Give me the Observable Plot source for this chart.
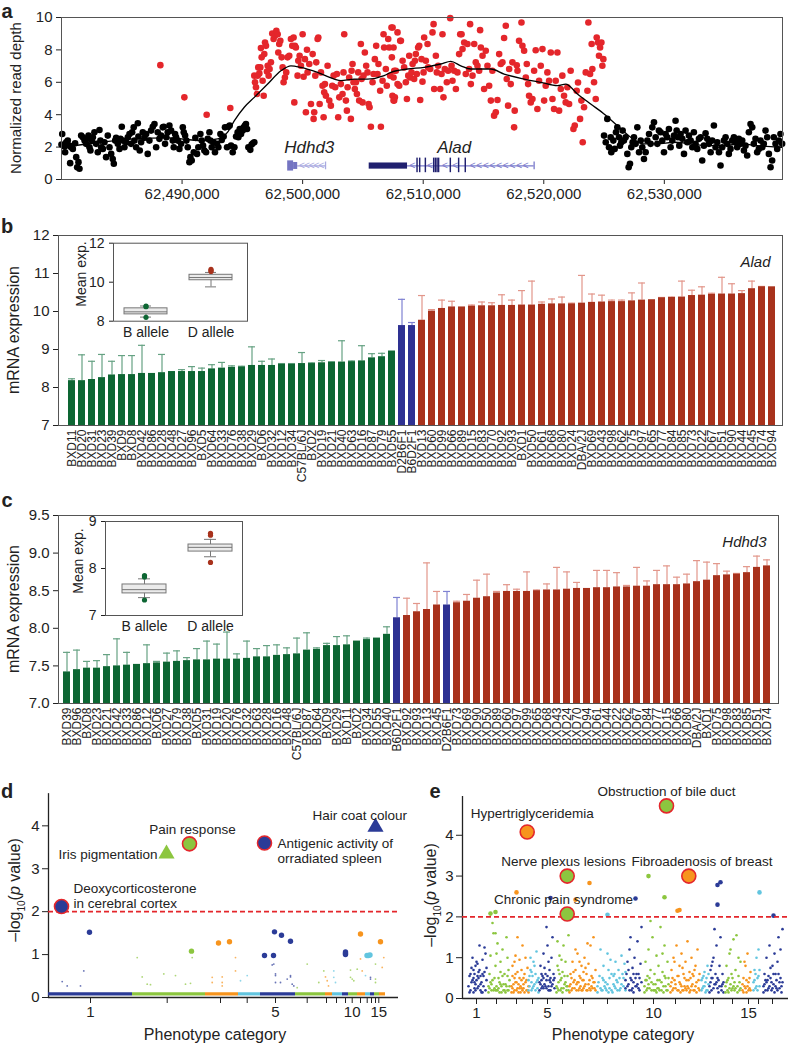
<!DOCTYPE html>
<html><head><meta charset="utf-8">
<script src="https://cdn.jsdelivr.net/npm/d3@7"></script>
<script src="https://cdn.jsdelivr.net/npm/@observablehq/plot@0.6"></script>
<style>
body{margin:0;background:#fff;font-family:"Liberation Sans",Arial,sans-serif;color:#222}
#root{position:relative;width:788px;height:1044px;overflow:hidden;background:#fff}
.lab{position:absolute;white-space:nowrap;transform:translate(-50%,-50%);line-height:1}
</style></head>
<body><div id="root"></div>
<script>
// ---------------- DATA ----------------
const REGION_START = 62480000; // positions below are kb offsets from this coordinate
const aXTicks = [62490000, 62500000, 62510000, 62520000, 62530000];
const aYTicks = [0, 2, 4, 6, 8, 10];
const aBlack = [[0.06,2.81],[0,2.16],[0.25,2.03],[0.39,2.3],[0.52,2.4],[0.66,2.09],[0.30,1.68],[0.80,1.99],[0.94,1.89],[0.72,1.01],[1.13,2.24],[1.22,1.38],[1.30,0.76],[1.41,1.07],[1.49,0.66],[1.63,2.71],[1.77,2.61],[1.91,2.4],[2.04,2.2],[2.13,2.51],[2.24,2.71],[2.32,1.99],[2.40,1.79],[2.51,2.4],[2.60,2.61],[2.73,2.92],[2.87,2.2],[3.01,1.68],[3.15,3.06],[3.23,2.4],[3.29,1.99],[3.43,1.89],[3.56,2.3],[3.70,1.38],[3.84,2.71],[3.98,1.99],[4.12,1.58],[4.25,1.27],[4.34,0.97],[4.45,2.4],[4.53,2.57],[4.67,2.2],[4.81,1.89],[4.89,2.51],[5.00,3.26],[5.08,2.4],[5.22,1.99],[5.36,2.3],[5.50,2.61],[5.64,2.81],[5.77,2.2],[5.86,2.92],[5.99,3.22],[6.05,2.4],[6.19,1.99],[6.33,3.47],[6.38,2.65],[6.49,1.79],[6.60,2.3],[6.74,2.92],[6.88,2.57],[7.02,2.81],[7.15,1.58],[7.29,2.4],[7.43,3.02],[7.57,3.26],[7.71,3.43],[7.85,1.99],[7.98,2.92],[8.12,2.51],[8.26,2.71],[8.40,3.22],[8.48,3.26],[8.59,2.2],[8.70,2.61],[8.81,2.92],[8.95,3.33],[9.09,3.02],[9.23,2.4],[9.31,1.99],[9.42,2.81],[9.50,2.61],[9.64,2.4],[9.78,1.89],[9.92,2.2],[10.06,3.22],[10.14,2.92],[10.25,2.71],[10.36,2.4],[10.47,1.99],[10.61,1.07],[10.69,1.38],[10.80,1.17],[10.97,1.68],[11.10,2.57],[11.24,1.58],[11.35,1.99],[11.52,2.81],[11.63,2.4],[11.74,2.09],[11.85,1.79],[11.99,1.68],[12.13,2.51],[12.27,2.92],[12.35,2.4],[12.46,1.99],[12.60,2.3],[12.73,1.68],[12.90,2.2],[13.01,1.99],[13.18,2.81],[13.29,2.44],[13.45,2.65],[13.56,3.22],[13.73,1.99],[13.84,3.26],[13.95,3.33],[14.06,2.09],[14.20,1.68],[14.34,1.99],[14.48,2.65],[14.61,2.92],[14.67,2.61],[14.78,3.12],[14.89,2.81],[15.03,3.02],[15.11,3.22],[15.22,3.33],[15.30,3.43],[15.39,3.12],[15.50,1.99],[15.66,1.83],[15.77,2.16],[15.88,2.24],[15.99,2.3],
[45.00,2.71],[45.14,2.3],[45.27,3.74],[45.41,1.99],[45.55,2.61],[45.60,1.68],[45.77,2.4],[45.88,1.89],[45.99,2.92],[46.10,3.22],[46.24,2.61],[46.32,2.09],[46.43,2.3],[46.54,3.02],[46.65,2.4],[46.79,2.61],[46.93,1.58],[47.04,0.76],[47.15,0.97],[47.26,1.99],[47.37,2.3],[47.48,2.61],[47.62,2.2],[47.76,3.22],[47.90,1.68],[48.04,2.4],[48.17,1.99],[48.31,1.27],[48.45,1.68],[48.59,2.4],[48.73,2.81],[48.86,2.2],[49.00,3.22],[49.14,3.53],[49.28,2.61],[49.42,2.2],[49.55,3.02],[49.69,2.92],[49.83,2.4],[49.97,1.68],[50.11,2.81],[50.24,2.61],[50.38,3.12],[50.52,1.99],[50.66,2.4],[50.80,2.71],[50.93,3.63],[51.02,3.02],[51.13,2.61],[51.24,2.09],[51.35,2.81],[51.49,2.51],[51.63,1.58],[51.76,3.02],[51.90,2.3],[52.04,2.71],[52.18,2.4],[52.32,1.99],[52.45,2.92],[52.59,2.2],[52.73,1.89],[52.87,2.51],[53.01,2.61],[53.14,1.17],[53.28,2.09],[53.42,2.85],[53.56,2.51],[53.70,2.2],[53.84,1.68],[53.97,2.4],[54.11,3.33],[54.25,1.99],[54.39,2.3],[54.53,1.68],[54.66,0.86],[54.80,1.99],[54.94,2.4],[55.08,2.61],[55.22,2.2],[55.35,1.58],[55.49,1.89],[55.63,2.4],[55.77,2.61],[55.91,2.3],[56.04,1.99],[56.18,2.51],[56.32,2.2],[56.46,2.4],[56.60,1.79],[56.73,2.09],[56.87,1.48],[57.01,2.92],[57.15,3.43],[57.29,3.22],[57.42,2.2],[57.56,2.51],[57.70,1.68],[57.84,1.89],[57.98,2.4],[58.12,1.99],[58.25,2.2],[58.39,3.02],[58.53,2.61],[58.67,1.58],[58.81,0.76],[58.94,1.17],[59.08,2.61],[59.22,2.2],[59.36,1.89],[59.50,2.4],[59.63,2.81],[59.77,2.2]];
const aRed = [[8.20,7.06],[10.19,5.07],[12.04,4.0],[14.0,4.41],
[15.99,6.41],[16.05,6.0],[16.13,5.69],[16.21,5.28],[16.27,6.41],[16.32,6.92],[16.41,6.55],[16.49,6.92],[16.54,8.11],[16.60,7.54],[16.68,6.1],[16.77,5.17],[16.82,7.74],[16.88,8.46],[16.96,8.25],[17.04,6.67],[17.10,7.02],[17.18,6.41],[17.26,6.82],[17.37,7.23],[17.48,9.01],[17.59,8.67],[17.70,8.87],[17.82,9.18],[17.93,8.97],[17.98,7.84],[18.06,8.36],[18.15,8.56],[18.26,7.54],[18.34,6.92],[18.42,6.0],[18.53,6.3],[18.64,6.61],[18.75,7.54],[18.89,7.64],[19.03,8.67],[19.14,8.25],[19.25,8.77],[19.31,4.76],[19.36,8.25],[19.44,8.15],[19.58,6.41],[19.64,7.33],[19.75,7.64],[19.86,7.02],[20.00,8.97],[20.08,6.34],[20.19,7.43],[20.27,4.15],[20.36,8.01],[20.41,6.61],[20.55,7.13],[20.69,4.66],[20.83,7.74],[20.91,3.74],[20.96,4.15],[21.05,6.41],[21.13,7.23],[21.24,8.67],[21.30,8.77],[21.41,4.66],[21.52,6.61],[21.65,5.79],[21.74,3.84],[21.79,5.38],[21.85,5.89],[21.93,5.17],[22.07,7.02],[22.21,4.87],[22.34,4.56],[22.46,5.79],[22.57,6.41],[22.70,5.69],[22.84,6.51],[22.95,3.84],[23.04,5.07],[23.17,5.89],[23.31,5.28],[23.39,6.61],[23.45,8.97],[23.59,4.87],[23.67,4.25],[23.73,5.69],[23.86,6.3],[24.00,3.74],[24.06,6.71],[24.14,7.13],[24.22,6.0],[24.33,5.59],[24.42,6.0],[24.50,5.28],[24.61,6.61],[24.69,4.87],[24.83,8.36],[24.89,6.2],[24.97,4.76],[25.05,6.41],[25.16,7.84],[25.27,7.02],[25.38,6.61],[25.47,4.66],[25.55,4.46],[25.66,3.26],[25.80,6.0],[25.88,6.51],[25.99,7.43],[26.10,8.25],[26.21,6.51],[26.29,7.13],[26.43,5.48],[26.49,3.26],[26.63,6.1],[26.71,8.97],[26.76,8.15],[26.90,6.82],[26.98,5.79],[27.10,8.67],[27.18,8.15],[27.26,6.41],[27.37,9.38],[27.45,5.17],[27.54,6.3],[27.59,4.87],[27.73,6.71],[27.87,9.08],[28.01,5.79],[28.09,8.56],
[27.46,9.38],[27.54,8.15],[27.40,7.54],[27.60,6.71],[27.65,5.07],[27.54,4.87],[27.87,5.89],[28.15,8.56],[28.29,7.33],[28.42,6.92],[28.56,6.0],[28.65,4.97],[28.76,6.41],[28.84,7.64],[28.92,6.3],[29.03,6.61],[29.12,7.13],[29.25,6.2],[29.31,7.33],[29.39,7.74],[29.47,6.51],[29.58,8.15],[29.67,8.25],[29.75,4.91],[29.86,7.43],[29.94,6.04],[30.03,6.61],[30.08,8.77],[30.22,7.33],[30.36,8.36],[30.41,6.92],[30.58,6.82],[30.77,9.08],[30.86,9.59],[30.91,5.59],[31.05,7.64],[31.13,6.61],[31.24,7.02],[31.41,5.59],[31.52,6.51],[31.60,8.97],[31.68,5.07],[31.79,6.82],[31.96,6.0],[32.07,6.71],[32.24,9.96],[32.35,7.02],[32.43,6.1],[32.57,6.71],[32.71,5.59],[32.84,6.61],[32.98,7.74],[33.07,8.97],[33.18,8.97],[33.26,8.05],[33.40,8.46],[33.53,6.51],[33.67,8.36],[33.81,6.82],[33.89,9.59],[33.95,5.89],[34.09,6.41],[34.23,8.36],[34.36,7.23],[34.50,7.02],[34.64,6.71],[34.72,9.22],[34.78,8.15],[34.92,7.64],[35.05,5.59],[35.19,7.95],[35.33,7.02],[35.47,5.79],[35.61,4.87],[35.74,6.71],[35.88,3.94],[36.02,4.15],[36.16,4.91],[36.30,7.74],[36.43,7.13],[36.57,7.23],[36.71,8.73],[36.85,9.49],[36.93,6.2],[37.04,4.56],[37.13,6.82],[37.26,5.89],[37.40,7.23],[37.54,3.22],[37.59,4.25],[37.76,7.05],[37.82,6.71],[37.95,8.56],[38.15,9.69],[38.23,8.25],[38.37,7.95],[38.51,6.3],[38.59,7.13],[38.70,5.89],[38.78,5.17],[38.92,4.76],[39.06,4.97],[39.20,6.71],[39.33,7.98],[39.47,4.35],[39.61,6.1],[39.75,7.02],[39.89,8.05],[40.03,4.87],[40.16,5.79],[40.30,6.61],[40.44,6.1],[40.58,7.84],[40.72,4.97],[40.85,4.35],[40.99,6.1],[41.13,7.84],[41.27,4.25],[41.41,5.59],[41.54,6.41],[41.68,5.17],[41.82,4.76],[41.96,5.69],[42.10,4.66],[42.23,6.71],[42.46,3.12],[42.57,3.33],[42.73,5.48],[42.84,5.99],[43.01,3.74],[43.12,4.87],[43.23,2.3],[43.34,4.46],[43.48,6.61],[43.62,5.48],[43.70,9.69],[43.84,6.51],[43.97,8.36],[44.03,6.82],[44.17,6.0],[44.31,4.97],[44.39,8.77],[44.50,8.46],[44.58,7.64],[44.67,8.15],[44.78,8.46],[44.86,7.02],[44.94,7.43]];
const aTrend = [[0,1.99],[3.29,2.3],[6.05,2.51],[8.81,2.57],[11.57,2.4],[12.95,2.51],[13.78,2.92],[14.34,3.63],[15.16,4.46],[15.99,5.07],[17.10,5.89],[18.20,6.71],[19.03,7.02],[19.86,6.92],[21.24,6.61],[22.62,6.2],[23.17,6.1],[24.28,6.2],[25.38,6.2],[26.76,6.41],[27.32,6.61],[28.70,6.82],[30.08,6.92],[31.46,7.13],[32.29,7.29],[33.12,7.02],[33.95,6.82],[35.61,6.82],[36.71,6.51],[38.37,6.2],[39.75,6.0],[41.13,5.79],[41.82,5.89],[42.79,5.28],[43.89,4.66],[45.00,4.05],[46.10,3.33],[47.21,2.61],[48.31,2.2],[49.42,2.2],[50.80,2.3],[52.18,2.2],[53.56,2.09],[54.94,2.09],[56.32,2.2],[57.70,2.09],[59.77,1.99]];
// gene models (kb offsets)
const geneNames = [{name:"Hdhd3", pos:20.55}, {name:"Alad", pos:32.57}];
const geneLines = [{gene:"Hdhd3", start:19.59, end:21.9}, {gene:"Alad", start:28.70, end:39.2}];
const geneBlocks = [{gene:"Hdhd3", start:18.76, end:19.25, lo:0.52, hi:1.15},{gene:"Hdhd3", start:19.25, end:19.59, lo:0.62, hi:1.05},{gene:"Alad", start:25.52, end:28.70, lo:0.64, hi:1.02}];
const aladExons = [29.53, 29.75, 30.22, 30.91, 31.05, 31.19, 31.32, 32.29, 32.98, 33.53];
const geneChevrons = [{gene:"Hdhd3",pos:[19.95,20.35,20.75,21.15,21.55]},{gene:"Alad",pos:[29.1,30.55,31.8,32.65,34.1,34.65,35.2,35.75,36.3,36.85,37.4,37.95,38.5]}];
const geneEnds = [{gene:"Hdhd3", pos:21.9}, {gene:"Alad", pos:39.2}];

// panel b (Alad)
const bStrains = ["BXD11","BXD20","BXD31","BXD23","BXD39","BXD9","BXD8","BXD42","BXD86","BXD28","BXD48","BXD27","BXD96","BXD5","BXD64","BXD33","BXD76","BXD38","BXD29","BXD6","BXD32","BXD12","BXD34","C57BL/6J","BXD2","BXD19","BXD21","BXD40","BXD63","BXD16","BXD87","BXD79","BXD55","D2B6F1","B6D2F1","BXD13","BXD60","BXD99","BXD66","BXD89","BXD15","BXD83","BXD70","BXD92","BXD93","BXD1","BXD50","BXD61","BXD68","BXD80","BXD24","DBA/2J","BXD69","BXD43","BXD98","BXD62","BXD75","BXD97","BXD65","BXD77","BXD84","BXD85","BXD73","BXD22","BXD67","BXD51","BXD90","BXD44","BXD45","BXD74","BXD94"];
const bAllele = ("B".repeat(33) + "FF" + "D".repeat(36)).split("");
const bMean = [8.18,8.18,8.21,8.26,8.33,8.34,8.34,8.37,8.37,8.39,8.42,8.42,8.42,8.42,8.49,8.51,8.53,8.54,8.58,8.58,8.58,8.61,8.61,8.63,8.63,8.65,8.66,8.67,8.68,8.70,8.78,8.81,8.96,
 9.63,9.63,
 9.77,10.01,10.08,10.12,10.12,10.14,10.15,10.15,10.16,10.16,10.17,10.17,10.19,10.2,10.2,10.2,10.22,10.24,10.25,10.26,10.26,10.28,10.3,10.31,10.36,10.37,10.38,10.42,10.43,10.45,10.46,10.46,10.47,10.6,10.65,10.65];
const bUpper = [8.23,8.86,8.69,8.87,8.69,8.84,8.84,9.11,8.37,8.87,8.42,8.47,8.55,8.51,8.6,8.66,8.57,8.56,9.07,8.69,8.75,8.63,8.63,8.92,8.65,8.71,8.68,9.23,8.7,9.1,8.89,8.9,8.96,
 10.32,9.71,
 10.42,10.05,10.3,10.27,10.12,10.17,10.25,10.23,10.44,10.3,10.55,10.8,10.25,10.33,10.38,10.22,10.95,10.46,10.43,10.3,10.3,10.49,10.75,10.31,10.37,10.38,10.8,10.56,10.65,10.48,10.9,10.73,10.55,10.8,10.66,10.65];
const bYTicks = [7,8,9,10,11,12];
const bBox = [{allele:"B allele", lo:8.21, q1:8.35, median:8.48, q3:8.66, hi:8.78},{allele:"D allele", lo:9.76, q1:10.1, median:10.24, q3:10.38, hi:10.5}];
const bOut = [{allele:"B allele", value:8.78},{allele:"B allele", value:8.74},{allele:"B allele", value:8.2},{allele:"D allele", value:10.66},{allele:"D allele", value:10.6},{allele:"D allele", value:10.55}];

// panel c (Hdhd3)
const cStrains = ["BXD39","BXD96","BXD8","BXD23","BXD21","BXD42","BXD33","BXD86","BXD12","BXD6","BXD27","BXD79","BXD38","BXD5","BXD31","BXD19","BXD20","BXD76","BXD32","BXD63","BXD28","BXD16","BXD48","C57BL/6J","BXD87","BXD64","BXD9","BXD29","BXD11","BXD2","BXD34","BXD55","BXD40","B6D2F1","BXD92","BXD93","BXD13","BXD45","D2B6F1","BXD73","BXD69","BXD90","BXD50","BXD89","BXD60","BXD97","BXD99","BXD65","BXD68","BXD43","BXD24","BXD70","BXD94","BXD61","BXD44","BXD22","BXD62","BXD67","BXD84","BXD77","BXD15","BXD66","BXD80","DBA/2J","BXD1","BXD75","BXD98","BXD83","BXD85","BXD51","BXD74"];
const cAllele = ("B".repeat(33) + "F" + "DDDD" + "F" + "D".repeat(32)).split("");
const cMean = [7.42,7.45,7.47,7.47,7.49,7.5,7.51,7.52,7.53,7.54,7.55,7.56,7.57,7.58,7.58,7.59,7.59,7.59,7.6,7.62,7.62,7.64,7.65,7.66,7.71,7.72,7.77,7.77,7.78,7.83,7.85,7.87,7.92,
 8.14,8.17,8.22,8.25,8.31,8.31,
 8.34,8.36,8.40,8.42,8.47,8.49,8.49,8.49,8.5,8.51,8.51,8.52,8.53,8.53,8.54,8.54,8.55,8.55,8.56,8.56,8.58,8.58,8.58,8.59,8.62,8.64,8.7,8.71,8.72,8.74,8.81,8.83];
const cUpper = [7.68,7.71,7.56,7.57,7.65,7.86,7.68,7.52,7.78,7.56,7.67,7.7,7.61,7.73,7.83,7.79,7.95,7.66,7.83,7.73,7.77,7.78,7.74,7.87,7.94,7.74,7.8,7.89,7.9,7.83,7.87,7.87,8.02,
 8.41,8.40,8.33,8.87,8.49,8.49,
 8.36,8.45,8.64,8.72,8.49,8.58,8.52,8.75,8.51,8.59,8.81,8.75,8.61,8.53,8.77,8.77,8.74,8.57,8.81,8.63,8.77,8.83,8.68,8.72,8.9,8.88,8.86,8.76,8.73,8.82,8.96,8.91];
const cYTicks = [7.0,7.5,8.0,8.5,9.0,9.5];
const cBox = [{allele:"B allele", lo:7.38, q1:7.47, median:7.55, q3:7.66, hi:7.78},{allele:"D allele", lo:8.25, q1:8.36, median:8.45, q3:8.51, hi:8.62}];
const cOut = [{allele:"B allele", value:7.85},{allele:"B allele", value:7.82},{allele:"B allele", value:7.33},{allele:"D allele", value:8.75},{allele:"D allele", value:8.71},{allele:"D allele", value:8.13}];

// panel d (phenotype categories, x in cumulative phenotype units)
const dCatCenters = [42,118.7,172,198.7,227,258.7,278,288,297,303.7,312,318.7,323,327,330.3];
const dCatBounds = [0,84,157,190,212,247,277,284,294,300,309,317,322,326,331,337];
const dTickText = ["1","","","","5","","","","","10","","","","","15"];
const dTiny = [[13.7,0.37],[18.7,0.27],[35.3,0.62],[32,0.27],[88.7,0.93],[93.7,0.48],[98.7,0.31],[102,0.3],[115.3,0.55],[127,0.51],[137,0.31],[142,0.33],[143.7,0.93],[163.7,0.47],[163.7,0.35],[173.7,0.48],[173.7,0.35],[173.7,0.27],[187,0.62],[187,0.93],[192,0.39],[198.7,0.51],[223.7,0.76],[227,0.51],[227,0.35],[225.3,0.78],[227,0.55],[232,0.35],[238.7,0.43],[242,0.48],[242,0.51],[245.3,0.27],[243.7,0.31],[248.7,0.23],[258.7,0.78],[270.3,0.35],[275.3,0.62],[277,0.48],[278.7,0.39],[280,0.27],[285.3,0.47],[285.3,0.62],[287,0.35],[302,0.64],[302,0.47],[303.7,0.43],[305.3,0.39],[308.7,0.66],[312,0.9],[313.7,0.62],[317,0.51],[322,0.47],[322,0.43],[327,0.35],[327,0.43],[327,0.78],[333.7,0.7],[335.3,0.93]];
const dMid = [[41,1.52],[143,1.08],[170,1.27],[181,1.30],[216,0.98],[225,0.98],[226,1.53],[233,1.45],[242,1.31],[297,1.06],[297,1.0],[297,1.03],[312,1.48],[318.5,0.98],[320,0.98],[321.5,0.99],[332,1.3]];
const dHits = [
 {x:13, y:2.12, cat:0, shape:"circle"},
 {x:118, y:3.35, cat:1, shape:"triangle"},
 {x:141, y:3.58, cat:1, shape:"circle"},
 {x:216, y:3.6, cat:0, shape:"circle"},
 {x:327, y:3.97, cat:0, shape:"triangle"}];
const dNotesStart = [{text:"Deoxycorticosterone\nin cerebral cortex", x:25, y:2.37},{text:"Antigenic activity of\norradiated spleen", x:229, y:3.42},{text:"Hair coat colour", x:264, y:4.25}];
const dNotesEnd = [{text:"Iris pigmentation", x:109, y:3.33}];
const dNotesMid = [{text:"Pain response", x:144, y:3.91}];

// panel e
const eCatCenters = [14,34,54,70,85,100,121,145,171,191,213,238,251,270,286,296,310];
const eTickText = ["1","","","","5","","","","","10","","","","","15","",""];
const ePoints = [
 [[6,0.3],[7,0.55],[8,0.2],[9,0.75],[10,0.45],[11,0.15],[12,0.6],[13,0.35],[14,0.9],[15,0.25],[16,0.5],[17,0.7],[18,0.2],[19,0.4],[20,0.95],[21,0.3],[22,0.65],[23,1.1],[24,0.45],[10,1.0],[13,0.8],[17,1.3],[20,0.15],[8,0.6],[15,0.85],[22,1.25],[12,0.4],[18,0.55],[11,0.7],[16,0.3],
  [7,0.15],[9,0.4],[11,0.5],[13,0.2],[14,0.45],[16,0.65],[18,0.35],[19,0.15],[21,0.55],[23,0.2],[24,0.75],[12,0.25],[15,0.55],[20,0.6]],
 [[26,0.3],[27,0.6],[28,1.05],[29,0.2],[30,0.45],[31,1.6],[32,0.25],[33,0.8],[34,0.2],[35,1.35],[36,0.5],[37,0.15],[38,0.9],[39,0.3],[40,1.2],[41,0.2],[42,0.6],[43,0.35],[44,1.5],[45,0.2],[46,0.7],[47,0.3],[30,1.85],[34,1.1],[38,0.35],[42,0.2],[45,1.0],[36,0.25],[40,0.55],[28,0.4],[33,1.6],
  [26,0.15],[27,0.25],[29,0.35],[31,0.2],[32,0.5],[34,0.3],[35,0.2],[37,0.4],[39,0.15],[41,0.35],[43,0.15],[44,0.3],[46,0.2],[47,0.45],[33,0.2],[38,0.65],[45,0.55]],
 [[49,0.3],[50,0.8],[51,0.15],[52,0.5],[53,1.05],[54,0.2],[55,0.65],[56,0.35],[57,0.95],[58,0.15],[59,0.45],[60,1.3],[61,0.25],[62,0.6],[63,0.4],[64,0.2],[65,0.75],[66,0.3],[53,0.4],[57,0.25],[61,0.5],[55,1.5],[50,0.55],[63,1.0],[59,0.7],[52,0.9],[66,0.15],
  [49,0.15],[50,0.25],[51,0.35],[52,0.2],[54,0.4],[55,0.25],[56,0.15],[58,0.3],[60,0.2],[61,0.35],[62,0.15],[64,0.45],[65,0.2],[59,0.25],[53,0.6],[57,0.5]],
 [[66,0.45],[67,0.3],[68,0.7],[69,0.2],[70,0.55],[71,0.9],[72,0.35],[73,0.6],[74,1.15],[75,0.25],[76,0.5],[70,0.25],[72,0.8],[68,1.0],[74,0.4],
  [66,0.2],[67,0.55],[69,0.4],[71,0.3],[73,0.2],[75,0.45],[76,0.15],[69,0.65]],
 [[77,0.4],[78,0.8],[79,0.25],[80,0.55],[81,1.1],[82,0.35],[83,0.6],[84,0.45],[85,1.3],[86,0.3],[87,0.7],[88,0.5],[89,1.0],[90,0.35],[91,0.6],[92,0.25],[84,1.75],[86,0.9],[80,0.3],[88,0.2],[82,0.75],[90,1.5],[79,0.6],[87,0.45],
  [77,0.2],[78,0.35],[79,0.45],[81,0.5],[83,0.3],[84,0.25],[85,0.55],[86,0.2],[88,0.4],[89,0.3],[91,0.45],[92,0.5],[81,0.25],[87,0.2]],
 [[94,0.3],[95,0.8],[96,0.2],[97,1.05],[98,0.45],[99,0.25],[100,0.65],[101,1.3],[102,0.35],[103,0.9],[104,0.2],[105,0.55],[106,1.55],[97,0.6],[100,0.15],[103,0.4],[95,1.4],[99,0.95],[105,0.3],
  [94,0.15],[95,0.25],[96,0.4],[98,0.2],[99,0.5],[101,0.25],[102,0.55],[104,0.3],[106,0.2],[96,0.7]],
 [[107,0.3],[108,0.6],[109,0.2],[110,0.9],[111,0.4],[112,0.25],[113,0.7],[114,0.35],[115,1.1],[116,0.2],[117,0.55],[118,0.3],[119,0.8],[120,0.45],[121,0.25],[122,1.0],[123,0.35],[124,0.6],[125,0.2],[126,0.85],[127,0.45],[128,1.3],[129,0.3],[130,0.5],[131,1.5],[132,0.25],[133,0.7],[111,0.65],[115,0.4],[119,0.2],[123,0.75],[127,0.25],[113,1.2],[125,1.35],[131,0.4],
  [107,0.15],[108,0.35],[109,0.5],[110,0.25],[112,0.45],[114,0.2],[116,0.4],[117,0.25],[118,0.5],[120,0.2],[121,0.45],[122,0.3],[124,0.2],[126,0.35],[128,0.2],[129,0.55],[130,0.25],[132,0.4],[133,0.2],[117,0.9],[121,0.65]],
 [[135,0.3],[137,0.55],[139,0.2],[141,0.8],[143,0.4],[145,1.1],[147,0.25],[149,0.6],[151,0.35],[153,0.9],[155,0.2],[157,0.5],[159,1.05],[161,0.3],[163,0.65],[138,1.2],[142,0.3],[146,0.7],[150,0.15],[154,0.45],[158,0.25],[162,0.85],[140,0.5],[148,0.95],[156,0.7],[144,0.2],[152,0.6],
  [135,0.15],[136,0.4],[138,0.25],[140,0.2],[141,0.45],[143,0.25],[145,0.35],[147,0.5],[149,0.2],[151,0.55],[153,0.25],[155,0.4],[157,0.2],[159,0.35],[161,0.5],[163,0.2],[146,0.15],[152,0.3],[160,0.6]],
 [[163,0.25],[164,0.6],[165,0.9],[166,0.35],[167,1.2],[168,0.5],[169,0.2],[170,0.75],[171,0.4],[172,1.0],[173,0.3],[174,0.6],[175,1.4],[176,0.25],[177,0.5],[178,0.85],[179,1.75],[168,1.5],[171,0.15],[174,0.3],[166,0.7],
  [163,0.45],[165,0.3],[167,0.2],[169,0.45],[171,0.6],[173,0.5],[175,0.35],[177,0.2],[179,0.4],[170,0.25],[176,0.6]],
 [[182,0.3],[183,0.9],[184,0.2],[185,0.55],[186,1.2],[187,0.25],[188,0.7],[189,0.4],[190,1.5],[191,0.2],[192,0.6],[193,0.35],[194,1.05],[195,0.25],[196,0.8],[197,0.45],[198,1.75],[199,0.2],[200,0.65],[201,0.3],[202,1.3],[203,0.5],[204,0.2],[205,0.9],[206,0.35],[188,1.9],[192,0.2],[196,0.25],[200,1.1],[184,0.45],
  [182,0.15],[183,0.45],[185,0.25],[187,0.5],[189,0.2],[191,0.35],[193,0.2],[195,0.45],[197,0.2],[199,0.4],[201,0.15],[203,0.3],[205,0.2],[206,0.5],[186,0.35],[194,0.15],[202,0.55]],
 [[208,0.3],[209,0.7],[210,0.2],[211,1.0],[212,0.45],[213,0.25],[214,1.3],[215,0.55],[216,0.2],[217,0.8],[218,0.35],[219,1.1],[220,0.2],[221,0.6],[222,0.3],[223,0.9],[224,0.45],[225,1.4],[226,0.25],[227,0.65],[228,0.2],[229,1.0],[230,0.35],[231,0.55],[232,0.2],[233,0.8],[234,0.4],[235,1.2],[236,0.25],[237,0.6],[212,0.9],[216,0.55],[220,0.75],[224,0.2],[228,0.5],[232,0.7],
  [208,0.15],[209,0.4],[210,0.5],[211,0.25],[213,0.35],[215,0.2],[217,0.4],[218,0.15],[219,0.3],[221,0.2],[222,0.5],[223,0.25],[225,0.3],[226,0.45],[227,0.15],[229,0.3],[230,0.6],[231,0.2],[233,0.3],[234,0.15],[236,0.45],[237,0.2]],
 [[239,0.2],[240,0.5],[241,0.3],[242,0.65],[243,0.4],[244,0.2],[245,0.8],[246,0.35],[241,0.55],[243,0.15],
  [239,0.45],[240,0.25],[242,0.3],[244,0.5],[245,0.2],[246,0.6]],
 [[247,0.3],[248,0.7],[249,0.2],[250,0.5],[251,1.0],[252,0.35],[253,0.6],[254,1.3],[255,0.25],[256,0.45],[257,0.8],[258,1.5],[259,0.3],[260,0.6],[261,0.4],[252,1.7],[256,0.15],[250,0.9],[254,0.4],
  [247,0.15],[248,0.4],[249,0.5],[251,0.25],[253,0.35],[255,0.5],[257,0.3],[259,0.2],[260,0.35],[261,0.15],[249,0.8]],
 [[263,0.3],[264,0.8],[265,0.2],[266,0.5],[267,1.1],[268,0.35],[269,0.6],[270,0.25],[271,1.45],[272,0.4],[273,0.7],[274,1.55],[275,0.3],[276,0.55],[277,0.2],[278,0.9],[268,1.2],[272,0.2],[276,1.0],[266,0.15],
  [263,0.15],[264,0.4],[265,0.45],[267,0.25],[269,0.2],[270,0.5],[271,0.3],[273,0.25],[275,0.15],[277,0.4],[278,0.25]],
 [[280,0.2],[281,0.5],[282,0.3],[283,0.8],[284,0.15],[285,1.1],[286,0.4],[287,0.25],[288,0.65],[282,0.9],[286,0.2],
  [280,0.35],[281,0.15],[283,0.25],[284,0.45],[285,0.3],[287,0.5],[288,0.2]],
 [[291,0.4],[292,0.7],[293,0.25],[294,1.0],[295,0.5],[296,1.2],[297,0.3],[293,0.6],
  [291,0.2],[292,0.45],[294,0.3],[295,0.2],[296,0.55],[297,0.7]],
 [[301,0.3],[302,0.6],[303,0.2],[304,1.0],[305,0.45],[306,0.25],[307,1.3],[308,0.5],[309,0.2],[310,0.8],[311,0.35],[312,1.1],[313,0.6],[314,0.25],[315,0.9],[316,1.5],[317,0.4],[318,1.2],[319,0.3],[320,1.7],[308,0.75],[312,0.15],[316,0.6],[304,0.4],
  [301,0.15],[302,0.35],[303,0.45],[305,0.2],[306,0.55],[307,0.3],[309,0.4],[310,0.25],[311,0.6],[313,0.3],[314,0.45],[315,0.2],[317,0.25],[318,0.5],[319,0.15],[320,0.4]]
];
const eMid = [[28,2.08,1],[33,2.12,1],[54,2.6,2],[88,2.46,4],[113,2.42,6],[127,2.83,6],[145,2.05,7],[173,2.45,8],[186,3.0,9],[202,2.48,9],[215,2.15,10],[217,2.17,10],[255,2.78,12],[258,2.85,12],[255,2.3,12],[297,2.6,15],[311,2.03,16]];
const eHits = [{x:64.7,y:4.08,cat:2},{x:204,y:4.72,cat:9},{x:104.7,y:3.0,cat:5},{x:226.3,y:3.0,cat:10},{x:104.7,y:2.07,cat:5}];
const eNotes = [{text:"Obstruction of bile duct",x:204,y:5.06},{text:"Hypertriglyceridemia",x:69.7,y:4.52},{text:"Nerve plexus lesions",x:101,y:3.35},{text:"Fibroadenosis of breast",x:239.5,y:3.35},{text:"Chronic pain syndrome",x:101,y:2.43}];

// ---------------- STYLE ----------------
const FONT = '"Liberation Sans", Arial, Helvetica, sans-serif';
const CAT = ["#2b3b97","#8cc63f","#f7941d","#62c5df"];
const RED = "#e4262b";
const BAR = {B:"#0d6633", F:"#2e3192", D:"#a8321c"};
const ERR = {B:"#66a283", F:"#7f82d2", D:"#e2968a"};
const NOTE_SIZE = 13.5;
const root = document.getElementById("root");
const toBp = k => REGION_START + k*1000;
const intFmt = d3.format("d");

function place(svg, left, top, w){
  const div = document.createElement("div");
  div.style.cssText = `position:absolute;left:${left}px;top:${top}px;width:${w}px`;
  div.appendChild(svg); root.appendChild(div);
}
function label(html, cx, cy, css, rot){
  const d = document.createElement("div");
  d.className = "lab"; d.innerHTML = html;
  d.style.left = cx+"px"; d.style.top = cy+"px";
  if (rot) d.style.transform = "translate(-50%,-50%) rotate(-90deg)";
  d.style.cssText += css || "";
  root.appendChild(d);
}
function setTickFont(svg, axis, size){
  svg.querySelectorAll(`[aria-label^="${axis}-axis"] text`).forEach(t => t.setAttribute("font-size", size));
}
const baseStyle = {fontFamily: FONT, fontSize: "15px", background: "transparent", overflow: "visible", color: "#222"};

// ---------------- PANEL A ----------------
{
  const black = aBlack.map(([k,v]) => ({pos: toBp(k), depth: v}));
  const red = aRed.map(([k,v]) => ({pos: toBp(k), depth: v}));
  const trend = aTrend.map(([k,v]) => ({pos: toBp(k), depth: v}));
  const gcol = {Hdhd3:"#7474c2", Alad:"#20206f"};
  const lcol = {Hdhd3:"#a9a9e0", Alad:"#7a7acb"};
  const chev = geneChevrons.flatMap(g => g.pos.map(p => ({gene:g.gene, pos: toBp(p)})));
  const svg = Plot.plot({
    width: 788, height: 204, marginLeft: 61, marginRight: 6, marginTop: 17, marginBottom: 25,
    style: baseStyle,
    color: {type: "identity"},
    x: {domain: [toBp(0), toBp(59.8)], ticks: aXTicks, tickFormat: d3.format(","), tickSize: 5, label: null},
    y: {domain: [0, 10], ticks: aYTicks, tickFormat: intFmt, tickSize: 5, label: null},
    marks: [
      Plot.ruleY(geneLines, {x1: d => toBp(d.start), x2: d => toBp(d.end), y: 0.84, stroke: d => lcol[d.gene], strokeWidth: 1.3}),
      Plot.ruleX(geneEnds, {x: d => toBp(d.pos), y1: 0.6, y2: 1.08, stroke: d => lcol[d.gene], strokeWidth: 1.3}),
      Plot.text(chev, {x: "pos", y: 0.84, text: () => "<", fill: d => lcol[d.gene], fontSize: 10}),
      Plot.rect(geneBlocks, {x1: d => toBp(d.start), x2: d => toBp(d.end), y1: "lo", y2: "hi", fill: d => gcol[d.gene]}),
      Plot.rect(aladExons, {x1: d => toBp(d - 0.06), x2: d => toBp(d + 0.06), y1: 0.42, y2: 1.32, fill: gcol.Alad}),
      Plot.text(geneNames, {x: d => toBp(d.pos), y: 1.99, text: "name", fontStyle: "italic", fontSize: 17}),
      Plot.dot(black, {x: "pos", y: "depth", r: 3.3, fill: "#000"}),
      Plot.dot(red, {x: "pos", y: "depth", r: 3.3, fill: RED}),
      Plot.line(trend, {x: "pos", y: "depth", stroke: "#000", strokeWidth: 1.3, curve: "monotone-x"}),
      Plot.frame({stroke: "#555"})
    ]
  });
  place(svg, 0, 0, 788);
  label("Normalized read depth", 15, 98, "font-size:15px", true);
  label("a", 7, 11, "font-size:20px;font-weight:bold");
}

// ---------------- BAR PANELS ----------------
function barPanel({strains, allele, mean, upper, yDomain, yTicks, fmt, range, top, height, mt, mb, gene, mr}){
  const data = strains.map((s,i) => ({strain: s, g: allele[i], mean: mean[i], upper: upper[i]}));
  const svg = Plot.plot({
    width: 788, height, marginLeft: 58, marginRight: mr, marginTop: mt, marginBottom: mb,
    style: baseStyle,
    color: {type: "identity"},
    x: {type: "band", domain: strains, range, paddingInner: 0.3, paddingOuter: 0.5, tickRotate: -90, tickSize: 0, tickPadding: 4, label: null},
    y: {domain: yDomain, ticks: yTicks, tickFormat: fmt, tickSize: 5, label: null},
    marks: [
      Plot.ruleX(data.filter(d => d.upper > d.mean), {x: "strain", y1: "mean", y2: "upper", stroke: d => ERR[d.g], strokeWidth: 1.2}),
      Plot.tickY(data.filter(d => d.upper > d.mean), {x: "strain", y: "upper", stroke: d => ERR[d.g], strokeWidth: 1.2}),
      Plot.barY(data, {x: "strain", y1: yDomain[0], y2: "mean", fill: d => BAR[d.g]}),
      Plot.frame({stroke: "#555"}),
      Plot.text([gene], {frameAnchor: "top-right", dx: -12, dy: 21, fontStyle: "italic", fontSize: 15})
    ]
  });
  setTickFont(svg, "x", 12);
  place(svg, 0, top, 788);
}
function inset({box, out, yDomain, yTicks, range, left, top, width, height, mt, mb, ml, mr}){
  const oc = {"B allele": BAR.B, "D allele": BAR.D};
  const svg = Plot.plot({
    width, height, marginLeft: ml, marginRight: mr, marginTop: mt, marginBottom: mb,
    style: {...baseStyle, fontSize: "14px"},
    color: {type: "identity"},
    x: {type: "band", domain: ["B allele", "D allele"], range, padding: 0, tickSize: 0, tickPadding: 6, label: null},
    y: {domain: yDomain, ticks: yTicks, tickFormat: intFmt, tickSize: 4, label: null},
    marks: [
      Plot.frame({fill: "white", stroke: "#555"}),
      Plot.ruleX(box, {x: "allele", y1: "lo", y2: "hi", stroke: "#777"}),
      Plot.tickY(box, {x: "allele", y: "lo", stroke: "#777", insetLeft: 27, insetRight: 27}),
      Plot.tickY(box, {x: "allele", y: "hi", stroke: "#777", insetLeft: 27, insetRight: 27}),
      Plot.barY(box, {x: "allele", y1: "q1", y2: "q3", fill: "#ebebeb", stroke: "#777", insetLeft: 11, insetRight: 11}),
      Plot.tickY(box, {x: "allele", y: "median", stroke: "#777", insetLeft: 11, insetRight: 11}),
      Plot.dot(out, {x: "allele", y: "value", fill: d => oc[d.allele], r: 2.6})
    ]
  });
  place(svg, left, top, width);
}

barPanel({strains: bStrains, allele: bAllele, mean: bMean, upper: bUpper, yDomain: [7, 12], yTicks: bYTicks, fmt: intFmt,
  range: [63, 780], top: 200, height: 290, mt: 35, mb: 65, gene: "Alad", mr: 6});
inset({box: bBox, out: bOut, yDomain: [8, 12], yTicks: [8, 10, 12], range: [42.5, 172.5], left: 70, top: 230, width: 185, height: 120, mt: 12.7, mb: 29.3, ml: 43, mr: 8});
label("mRNA expression", 14, 330, "font-size:16px", true);
label("Mean exp.", 81, 274, "font-size:14px", true);
label("b", 7, 226, "font-size:20px;font-weight:bold");

barPanel({strains: cStrains, allele: cAllele, mean: cMean, upper: cUpper, yDomain: [7, 9.5], yTicks: cYTicks, fmt: d3.format(".1f"),
  range: [58, 775], top: 480, height: 283, mt: 35, mb: 60, gene: "Hdhd3", mr: 10});
inset({box: cBox, out: cOut, yDomain: [7, 9], yTicks: [7, 8, 9], range: [48, 181.4], left: 62, top: 509, width: 188, height: 136, mt: 12, mb: 30, ml: 43, mr: 8});
label("mRNA expression", 14, 609, "font-size:16px", true);
label("Mean exp.", 78, 561, "font-size:14px", true);
label("c", 7, 500, "font-size:20px;font-weight:bold");

// ---------------- PANEL D ----------------
{
  const catOf = x => { let i = 0; while (i < dCatBounds.length - 2 && x >= dCatBounds[i+1]) i++; return i; };
  const spans = dCatCenters.map((c, i) => ({x1: dCatBounds[i], x2: dCatBounds[i+1], col: CAT[i % 4]}));
  const tiny = dTiny.map(([x,y]) => ({x, y, col: CAT[catOf(x) % 4]}));
  const mid = dMid.map(([x,y]) => ({x, y, col: CAT[catOf(x) % 4]}));
  const svg = Plot.plot({
    width: 420, height: 277, marginLeft: 48, marginRight: 22, marginTop: 21, marginBottom: 50,
    style: baseStyle,
    color: {type: "identity"},
    x: {domain: [0, 350], ticks: dCatCenters, tickFormat: d => dTickText[dCatCenters.indexOf(d)], tickSize: 6, label: null},
    y: {domain: [0, 4.8], ticks: [0, 1, 2, 3, 4], tickFormat: intFmt, tickSize: 6, label: null},
    marks: [
      Plot.ruleY([0], {stroke: "#222", strokeWidth: 1.3}),
      Plot.ruleX([0], {y1: 0, y2: 4.75, stroke: "#222", strokeWidth: 1.3}),
      Plot.ruleY(spans, {x1: "x1", x2: "x2", y: 0.085, stroke: "col", strokeWidth: 3.2}),
      Plot.dot(tiny, {x: "x", y: "y", r: 0.9, fill: "col", fillOpacity: 0.7}),
      Plot.dot(mid, {x: "x", y: "y", r: 2.7, fill: "col"}),
      Plot.ruleY([2], {stroke: RED, strokeWidth: 1.8, strokeDasharray: "5,3"}),
      Plot.dot(dHits.filter(d => d.shape === "circle"), {x: "x", y: "y", r: 7, fill: d => CAT[d.cat], stroke: RED, strokeWidth: 1.6}),
      Plot.dot(dHits.filter(d => d.shape === "triangle"), {x: "x", y: "y", r: 6, symbol: "triangle", fill: d => CAT[d.cat]}),
      Plot.text(dNotesStart, {x: "x", y: "y", text: "text", textAnchor: "start", lineAnchor: "middle", lineHeight: 1.08, fontSize: NOTE_SIZE}),
      Plot.text(dNotesEnd, {x: "x", y: "y", text: "text", textAnchor: "end", fontSize: NOTE_SIZE}),
      Plot.text(dNotesMid, {x: "x", y: "y", text: "text", textAnchor: "middle", fontSize: NOTE_SIZE})
    ]
  });
  place(svg, 0, 770, 420);
  label("–log<sub style='font-size:10px'>10</sub>(<i>p</i> value)", 17, 890, "font-size:16px", true);
  label("Phenotype category", 215, 1035, "font-size:16px");
  label("d", 7, 791, "font-size:20px;font-weight:bold");
}

// ---------------- PANEL E ----------------
{
  const pts = ePoints.flatMap((arr, i) => arr.map(([x,y]) => ({x, y, col: CAT[i % 4]})));
  const mid = eMid.map(([x,y,c]) => ({x, y, col: CAT[c % 4]}));
  const svg = Plot.plot({
    width: 368, height: 276, marginLeft: 42, marginRight: 0, marginTop: 26, marginBottom: 48,
    style: baseStyle,
    color: {type: "identity"},
    x: {domain: [0, 326], ticks: eCatCenters, tickFormat: d => eTickText[eCatCenters.indexOf(d)], tickSize: 6, label: null},
    y: {domain: [0, 4.95], ticks: [0, 1, 2, 3, 4], tickFormat: intFmt, tickSize: 6, label: null},
    marks: [
      Plot.ruleY([0], {stroke: "#222", strokeWidth: 1.3}),
      Plot.ruleX([0], {y1: 0, y2: 4.95, stroke: "#222", strokeWidth: 1.3}),
      Plot.dot(pts, {x: "x", y: "y", r: 1.3, fill: "col"}),
      Plot.dot(mid, {x: "x", y: "y", r: 2.3, fill: "col"}),
      Plot.ruleY([2], {stroke: RED, strokeWidth: 1.8, strokeDasharray: "5,3"}),
      Plot.dot(eHits, {x: "x", y: "y", r: 7, fill: d => CAT[d.cat % 4], stroke: RED, strokeWidth: 1.6}),
      Plot.text(eNotes, {x: "x", y: "y", text: "text", textAnchor: "middle", fontSize: NOTE_SIZE})
    ]
  });
  place(svg, 420, 770, 368);
  label("–log<sub style='font-size:10px'>10</sub>(<i>p</i> value)", 433, 895, "font-size:16px", true);
  label("Phenotype category", 623, 1035, "font-size:16px");
  label("e", 435, 791, "font-size:20px;font-weight:bold");
}
</script>
</body></html>
